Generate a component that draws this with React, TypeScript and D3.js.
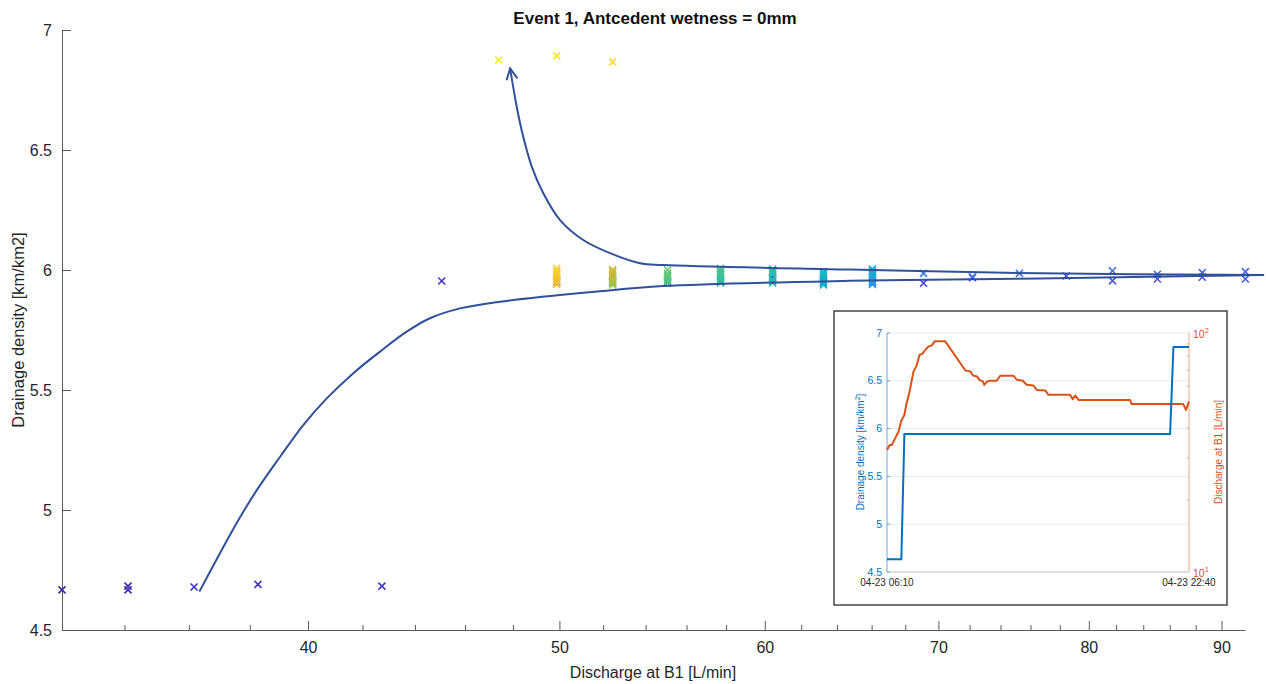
import React, { useRef, useEffect } from "react";
import * as d3 from "d3";

const W = 1266;
const H = 684;
const FONT = "'Liberation Sans', Arial, Helvetica, sans-serif";

// scatter: discharge at B1 [L/min], drainage density [km/km2], colour = time fraction of event
const dischargePts = [
  32.15, 34.09, 34.09, 36.15, 38.26, 42.71, 45.04,
  49.88, 52.42, 55.04, 57.69, 60.42, 63.21, 66.02, 69.08, 72.15, 78.42, 81.7, 85.02, 88.48, 91.93,
  91.93, 88.48, 85.02, 81.7, 75.22, 72.15, 69.08,
  66.02, 66.02, 66.02, 66.02, 66.02, 66.02, 66.02, 66.02, 66.02,
  63.21, 63.21, 63.21, 63.21, 63.21, 63.21, 63.21, 63.21,
  60.42, 60.42, 60.42, 60.42, 60.42, 60.42, 60.42,
  57.69, 57.69, 57.69, 57.69, 57.69, 57.69, 57.69, 57.69,
  55.04, 55.04, 55.04, 55.04, 55.04, 55.04, 55.04,
  52.42, 52.42, 52.42, 52.42, 52.42, 52.42, 52.42, 52.42, 52.42,
  49.88, 49.88, 49.88, 49.88, 49.88, 49.88, 49.88, 49.88, 49.88,
  52.42, 49.88, 47.38,
];
const densityPts = [
  4.667, 4.667, 4.683, 4.679, 4.69, 4.683, 5.954,
  5.95, 5.95, 5.95, 5.95, 5.97, 5.95, 5.95, 5.945, 5.968, 5.975, 5.955, 5.9625, 5.97, 5.9625,
  5.993, 5.989, 5.982, 5.997, 5.986, 5.972, 5.986,
  5.94, 5.948, 5.956, 5.964, 5.972, 5.98, 5.988, 5.996, 6.004,
  5.938, 5.946, 5.954, 5.962, 5.97, 5.978, 5.986, 5.992,
  5.946, 5.954, 5.962, 5.982, 5.99, 5.998, 6.004,
  5.946, 5.954, 5.962, 5.97, 5.978, 5.986, 5.994, 6.006,
  5.946, 5.954, 5.962, 5.97, 5.978, 5.986, 6.0,
  5.938, 5.946, 5.954, 5.962, 5.97, 5.978, 5.986, 5.994, 6.002,
  5.94, 5.948, 5.956, 5.964, 5.972, 5.98, 5.988, 5.996, 6.006,
  6.867, 6.892, 6.875,
];
const timeFrac = [
  0.0, 0.01, 0.02, 0.03, 0.04, 0.05, 0.06,
  0.07, 0.075, 0.08, 0.085, 0.09, 0.095, 0.1, 0.105, 0.11, 0.12, 0.125, 0.13, 0.135, 0.14,
  0.16, 0.165, 0.17, 0.18, 0.19, 0.2, 0.22,
  0.26, 0.27, 0.28, 0.29, 0.3, 0.31, 0.32, 0.34, 0.36,
  0.37, 0.375, 0.38, 0.39, 0.4, 0.41, 0.42, 0.43,
  0.44, 0.45, 0.455, 0.46, 0.47, 0.48, 0.49,
  0.5, 0.505, 0.51, 0.52, 0.53, 0.535, 0.54, 0.55,
  0.56, 0.57, 0.58, 0.59, 0.6, 0.61, 0.62,
  0.68, 0.7, 0.71, 0.72, 0.74, 0.75, 0.76, 0.78, 0.8,
  0.84, 0.85, 0.86, 0.87, 0.88, 0.89, 0.9, 0.91, 0.92,
  0.96, 0.98, 1.0,
];

const xTicks = [40, 50, 60, 70, 80, 90];
const yTicks = [4.5, 5, 5.5, 6, 6.5, 7];

// hand-drawn hysteresis arrows, traced in data units
const risingQ = [36.32, 36.99, 37.54, 38.22, 39.02, 39.83, 40.67, 41.64, 42.64, 43.66, 44.57, 45.78, 47.43, 51.69, 54.82, 64.72, 76.61, 93.47];
const risingD = [4.66, 4.82, 4.945, 5.083, 5.222, 5.354, 5.465, 5.57, 5.66, 5.743, 5.799, 5.84, 5.868, 5.91, 5.933, 5.955, 5.965, 5.979];
const fallingQ = [93.47, 76.61, 64.72, 54.82, 53.71, 52.3, 51.07, 50.03, 49.29, 48.79, 48.42, 48.14, 47.86];
const fallingD = [5.979, 5.986, 6.002, 6.021, 6.028, 6.07, 6.125, 6.208, 6.32, 6.43, 6.555, 6.68, 6.84];

// inset time series (minutes after 04-23 06:10)
const insetLabels = ["04-23 06:10", "04-23 22:40"];
const insetLeftTicks = [4.5, 5, 5.5, 6, 6.5, 7];
const densMinutes = [0, 47, 57, 928, 939, 990];
const densSeries = [4.633, 4.633, 5.944, 5.944, 6.853, 6.853];
const flowMinutes = [
  0, 9, 16, 27, 38, 46, 57, 63, 74, 87, 96, 107, 115, 126, 136, 147, 156, 191,
  257, 273, 282, 295, 303, 314, 319, 328, 338, 360, 371, 415, 426, 445, 458, 480,
  491, 519, 529, 600, 609, 617, 628, 797, 802, 971, 980, 990,
];
const flowSeries = [
  32.4, 34.0, 34.0, 36.3, 38.7, 42.6, 45.4, 50.0, 56.9, 69.1, 72.5, 81.1, 81.6, 85.1, 87.9, 88.8, 92.3, 92.3,
  69.7, 69.1, 66.4, 65.8, 63.7, 62.7, 60.7, 62.7, 63.1, 63.1, 66.2, 66.2, 63.7, 63.1, 60.7, 60.3,
  57.8, 57.5, 55.1, 55.1, 52.9, 54.8, 52.5, 52.5, 50.4, 50.4, 47.7, 51.7,
];

const parulaStops = [0, 0.1, 0.2, 0.3, 0.4, 0.5, 0.6, 0.7, 0.8, 0.9, 1];
const parulaColors = ["#3e26a8", "#4545e0", "#3d7af0", "#1fa4de", "#0fb4c8", "#2bbfa5", "#5ec67c", "#a4c244", "#d9b634", "#f7cb2d", "#eeee22"];

const App = () => {
  const svgRef = useRef<SVGSVGElement>(null);

  useEffect(() => {
    const svg = d3.select(svgRef.current);
    svg.selectAll("*").remove();
    svg.style("font-family", FONT);

    const x = d3.scaleLog().domain([32.15, 91.9]).range([62, 1245]);
    const y = d3.scaleLinear().domain([4.5, 7]).range([630, 30]);
    const color = d3.scaleLinear<string>().domain(parulaStops).range(parulaColors).interpolate(d3.interpolateRgb);

    // axes
    const gx = svg.append("g").attr("transform", "translate(0,630)").call(
      d3.axisBottom(x).tickValues(xTicks).tickSizeInner(-9).tickSizeOuter(0).tickPadding(12).tickFormat(d3.format("d"))
    );
    const gy = svg.append("g").attr("transform", "translate(62,0)").call(
      d3.axisLeft(y).tickValues(yTicks).tickSizeInner(-9).tickSizeOuter(0).tickPadding(10).tickFormat(d3.format(""))
    );
    [gx, gy].forEach((g) => {
      g.select(".domain").attr("stroke", "#5a5a5a");
      g.selectAll(".tick line").attr("stroke", "#5a5a5a");
      g.selectAll(".tick text").attr("fill", "#262626").style("font-size", "16px").style("font-family", FONT);
    });

    const minor = d3.range(34, 91, 2).filter((v) => v % 10 !== 0);
    svg.append("g").selectAll("line").data(minor).join("line")
      .attr("x1", (d) => x(d)).attr("x2", (d) => x(d))
      .attr("y1", 630).attr("y2", 625)
      .attr("stroke", "#5a5a5a");

    svg.append("text").attr("x", 655).attr("y", 24).attr("text-anchor", "middle")
      .attr("font-weight", "bold").attr("font-size", 17).attr("fill", "#111")
      .text("Event 1, Antcedent wetness = 0mm");
    svg.append("text").attr("x", 653).attr("y", 678).attr("text-anchor", "middle")
      .attr("font-size", 16).attr("fill", "#262626").text("Discharge at B1 [L/min]");
    svg.append("text").attr("transform", "translate(24,330) rotate(-90)").attr("text-anchor", "middle")
      .attr("font-size", 16.5).attr("fill", "#262626").text("Drainage density [km/km2]");

    // scatter markers, drawn in time order
    const pts = dischargePts.map((q, i) => ({ q, d: densityPts[i], c: timeFrac[i] }))
      .sort((a, b) => a.c - b.c);
    const sym = d3.symbol(d3.symbolX, 34);
    svg.append("g").selectAll("path").data(pts).join("path")
      .attr("transform", (p) => `translate(${x(p.q)},${y(p.d)})`)
      .attr("d", sym as any)
      .attr("fill", "none")
      .attr("stroke", (p) => color(p.c))
      .attr("stroke-width", 1.6);

    // hysteresis arrows
    const curveLine = d3.line<[number, number]>()
      .x((d) => x(d[0])).y((d) => y(d[1]))
      .curve(d3.curveCatmullRom.alpha(0.5));
    const rising = risingQ.map((q, i) => [q, risingD[i]] as [number, number]);
    const falling = fallingQ.map((q, i) => [q, fallingD[i]] as [number, number]);
    [rising, falling].forEach((pth) => {
      svg.append("path").attr("d", curveLine(pth)).attr("fill", "none")
        .attr("stroke", "#31509b").attr("stroke-width", 2);
    });
    const n = falling.length;
    const tx = x(falling[n - 1][0]), ty = y(falling[n - 1][1]);
    const px = x(falling[n - 2][0]), py = y(falling[n - 2][1]);
    const ang = Math.atan2(ty - py, tx - px);
    const L = 11, hw = 5.5;
    const bx = tx - L * Math.cos(ang), by = ty - L * Math.sin(ang);
    const nx = -Math.sin(ang), ny = Math.cos(ang);
    svg.append("path")
      .attr("d", `M${bx + nx * hw},${by + ny * hw}L${tx},${ty}L${bx - nx * hw},${by - ny * hw}`)
      .attr("fill", "none").attr("stroke", "#31509b").attr("stroke-width", 2);

    // inset
    const inset = svg.append("g");
    inset.append("rect").attr("x", 834).attr("y", 311).attr("width", 393).attr("height", 294)
      .attr("fill", "#fff").attr("stroke", "#444").attr("stroke-width", 1.5);

    const xi = d3.scaleLinear().domain([0, 990]).range([887, 1189]);
    const yl = d3.scaleLinear().domain([4.5, 7]).range([572, 333]);
    const yr = d3.scaleLog().domain([10, 100]).range([572, 333]);
    const BLUE = "#0072BD", ORANGE = "#D95319";

    inset.append("g").selectAll("line").data(insetLeftTicks.slice(1)).join("line")
      .attr("x1", 887).attr("x2", 1189).attr("y1", (d) => yl(d)).attr("y2", (d) => yl(d))
      .attr("stroke", "#e4eaef").attr("stroke-width", 1);

    inset.append("line").attr("x1", 887).attr("x2", 1189).attr("y1", 572).attr("y2", 572).attr("stroke", "#bdbdbd");
    inset.append("line").attr("x1", 887).attr("x2", 887).attr("y1", 333).attr("y2", 572).attr("stroke", "#6aa8d8");
    inset.append("line").attr("x1", 1189).attr("x2", 1189).attr("y1", 333).attr("y2", 572).attr("stroke", "#e3a88a");

    inset.append("g").selectAll("line").data(insetLeftTicks).join("line")
      .attr("x1", 887).attr("x2", 890).attr("y1", (d) => yl(d)).attr("y2", (d) => yl(d)).attr("stroke", "#6aa8d8");
    inset.append("g").selectAll("text").data(insetLeftTicks).join("text")
      .attr("x", 882).attr("y", (d) => yl(d) + 3.5).attr("text-anchor", "end")
      .attr("font-size", 10.5).attr("fill", BLUE).text((d) => d3.format("")(d));

    const logMinor = d3.range(20, 100, 10);
    inset.append("g").selectAll("line").data(logMinor).join("line")
      .attr("x1", 1189).attr("x2", 1186.5).attr("y1", (d) => yr(d)).attr("y2", (d) => yr(d)).attr("stroke", "#e3a88a");
    [10, 100].forEach((v) => {
      const t = inset.append("text").attr("x", 1193).attr("y", yr(v) + 5).attr("font-size", 10.5).attr("fill", ORANGE);
      t.append("tspan").text("10");
      t.append("tspan").attr("dy", -5).attr("font-size", 7.5).text(String(Math.log10(v)));
    });

    insetLabels.forEach((lab, i) => {
      inset.append("text").attr("x", xi(i === 0 ? 0 : 990)).attr("y", 586).attr("text-anchor", "middle")
        .attr("font-size", 10).attr("fill", "#262626").text(lab);
    });

    const lt = inset.append("text").attr("transform", "translate(864,452) rotate(-90)")
      .attr("text-anchor", "middle").attr("font-size", 10).attr("fill", BLUE);
    lt.append("tspan").text("Drainage density [km/km");
    lt.append("tspan").attr("dy", -4).attr("font-size", 7).text("2");
    lt.append("tspan").attr("dy", 4).text("]");
    inset.append("text").attr("transform", "translate(1222,452) rotate(-90)")
      .attr("text-anchor", "middle").attr("font-size", 10).attr("fill", ORANGE).text("Discharge at B1 [L/min]");

    const flowLine = d3.line<number>().x((_, i) => xi(flowMinutes[i])).y((d) => yr(d));
    inset.append("path").attr("d", flowLine(flowSeries)).attr("fill", "none")
      .attr("stroke", ORANGE).attr("stroke-width", 2).attr("stroke-linejoin", "round");
    const densLine = d3.line<number>().x((_, i) => xi(densMinutes[i])).y((d) => yl(d));
    inset.append("path").attr("d", densLine(densSeries)).attr("fill", "none")
      .attr("stroke", BLUE).attr("stroke-width", 2);
  }, []);

  return (
    <svg
      ref={svgRef}
      width={W}
      height={H}
      style={{ position: "absolute", left: 0, top: 0, background: "#fff", display: "block" }}
    />
  );
};

export default App;
